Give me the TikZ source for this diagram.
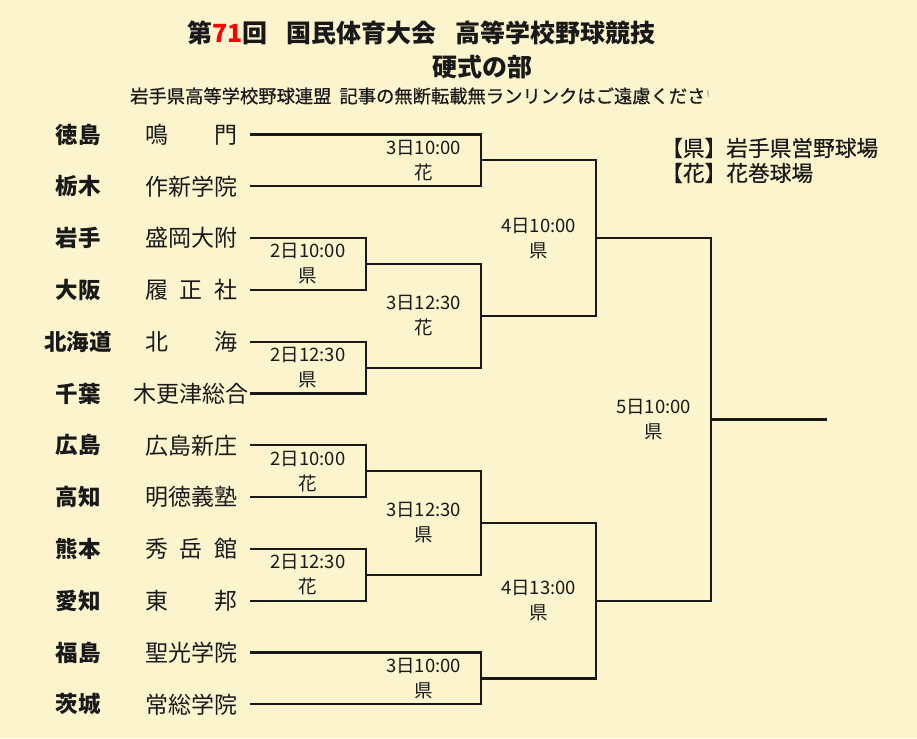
\documentclass[tikz,border=0pt]{standalone}
\usepackage{fontspec}
\setmainfont{Noto Sans CJK JP}
\newfontfamily\heavyfont{Noto Sans CJK JP}[BoldFont={Noto Sans CJK JP}, BoldFeatures={FakeBold=0.6}]
\usepackage{xcolor}
\usetikzlibrary{positioning}
\definecolor{paper}{RGB}{252,244,204}
\definecolor{ink}{RGB}{25,25,25}

\begin{document}
\begin{tikzpicture}[x=1pt, y=-1pt,
    bracket/.style={draw=ink, line width=2.2pt},
    pref/.style={font=\fontsize{22.5}{26}\selectfont\bfseries, inner sep=0pt},
    school/.style={font=\fontsize{23}{26}\selectfont, inner sep=0pt},
    slot/.style={font=\fontsize{18.5}{25}\selectfont, align=center, inner sep=0pt},
    place/.style={font=\fontsize{21.7}{25}\selectfont\heavyfont\bfseries, anchor=west, inner sep=0pt},
    every node/.style={text=ink}]
    % Background
    \fill[paper] (0,0) rectangle (917,738);
    \useasboundingbox (0,0) rectangle (917,738);

    % Title
    \node[anchor=west, inner sep=0pt, font=\fontsize{25}{30}\selectfont\bfseries] (title) at (187,33)
        {第{\color{red}71}回\hspace{19pt}国民体育大会\hspace{19pt}高等学校野球競技};
    \node[inner sep=0pt, font=\fontsize{25}{30}\selectfont\bfseries] (part) at (482,67) {硬式の部};
    \begin{scope}
        \clip (0,80) rectangle (708,115);
        \node[anchor=west, inner sep=0pt, font=\fontsize{18.3}{22}\selectfont\heavyfont\bfseries] (notice) at (130,96)
            {岩手県高等学校野球連盟\hspace{8pt}記事の無断転載無ランリンクはご遠慮ください};
    \end{scope}

    % Grounds
    \node[place] (ken) at (661,148) {【県】岩手県営野球場};
    \node[place] (hana) at (661,173) {【花】花巻球場};

    % Teams
    \foreach \p/\s [count=\i] in {徳島/{鳴\hfill 門}, 栃木/作新学院, 岩手/盛岡大附, 大阪/{履\hfill 正\hfill 社},
        北海道/{北\hfill 海}, 千葉/木更津総合, 広島/広島新庄, 高知/明徳義塾,
        熊本/{秀\hfill 岳\hfill 館}, 愛知/{東\hfill 邦}, 福島/聖光学院, 茨城/常総学院} {
        \pgfmathsetmacro\ty{134.5+51.8*(\i-1)}
        \node[pref] (pref\i) at (78,\ty) {\p};
        \node[school] (school\i) at (191,\ty) {\hbox to 92pt{\hss\s\hss}};
        \coordinate (t\i) at (250,\ty);
    }

    % Match points
    \coordinate (mA) at (366,264.0);
    \coordinate (mB) at (366,367.6);
    \coordinate (mC) at (366,471.2);
    \coordinate (mD) at (366,574.8);
    \coordinate (mE) at (481,160.4);
    \coordinate (mF) at (481,315.8);
    \coordinate (mG) at (481,523.0);
    \coordinate (mH) at (481,678.4);
    \coordinate (mI) at (596,238.1);
    \coordinate (mJ) at (596,600.7);
    \coordinate (mK) at (711,419.4);
    \coordinate (champ) at (827,419.4);

    % Brackets
    \draw[bracket] (t3) -| (mA) |- (t4);
    \draw[bracket] (t5) -| (mB) |- (t6);
    \draw[bracket] (t7) -| (mC) |- (t8);
    \draw[bracket] (t9) -| (mD) |- (t10);
    \draw[bracket] (t1) -| (mE) |- (t2);
    \draw[bracket] (mA) -| (mF) |- (mB);
    \draw[bracket] (mC) -| (mG) |- (mD);
    \draw[bracket] (t11) -| (mH) |- (t12);
    \draw[bracket] (mE) -| (mI) |- (mF);
    \draw[bracket] (mG) -| (mJ) |- (mH);
    \draw[bracket] (mI) -| (mK) |- (mJ);
    \draw[bracket] (mK) -- (champ);

    % Dates and grounds
    \foreach \lx/\ly/\d/\v [count=\k] in {308/264.0/2日10:00/県, 308/367.6/2日12:30/県,
        308/471.2/2日10:00/花, 308/574.8/2日12:30/花,
        423.5/160.4/3日10:00/花, 423.5/315.8/3日12:30/花, 423.5/523.0/3日12:30/県, 423.5/678.4/3日10:00/県,
        538.5/238.1/4日10:00/県, 538.5/600.7/4日13:00/県, 653.5/419.4/5日10:00/県} {
        \node[slot] (slot\k) at (\lx,\ly) {\d\\\v};
    }
\end{tikzpicture}
\end{document}
